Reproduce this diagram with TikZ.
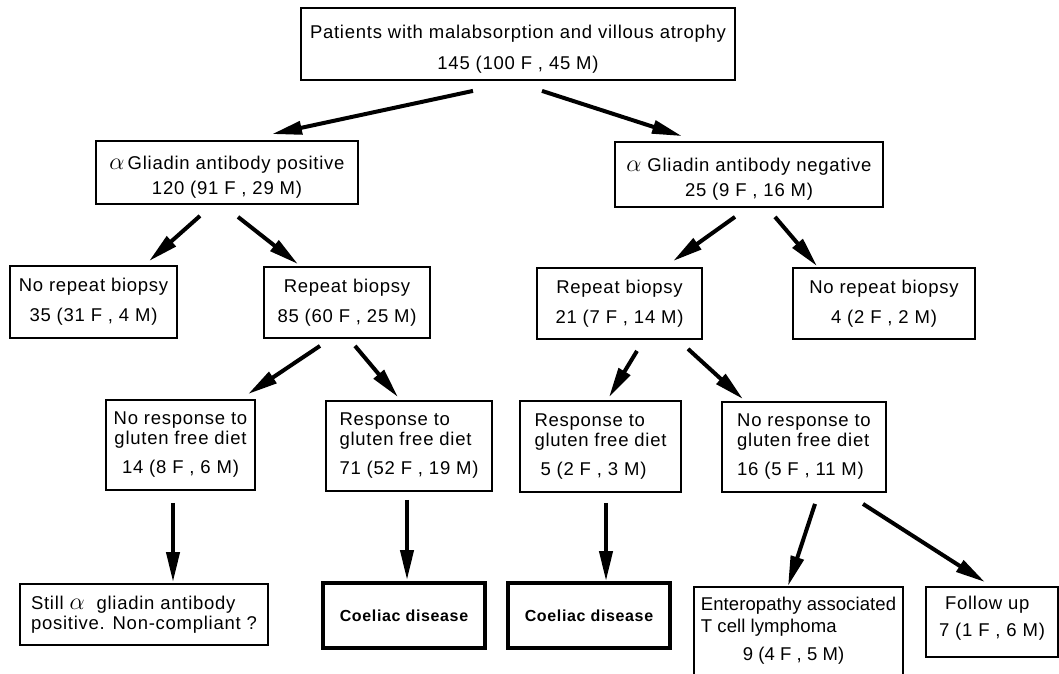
\RequirePackage{fix-cm}
\documentclass[tikz,border=0pt]{standalone}
\usepackage{fontspec}
\setmainfont[LetterSpace=4]{Liberation Sans}
\usetikzlibrary{arrows.meta}
\newcommand{\galpha}{\scalebox{1.3}{$\alpha$}}
\begin{document}
\begin{tikzpicture}[x=1pt,y=-1pt,
  box/.style={draw, line width=1.8pt, inner sep=0pt, font=\fontsize{18.5}{20}\selectfont, align=center},
  fin/.style={box, line width=3.8pt, font=\fontsize{16}{20}\selectfont\bfseries},
  arr/.style={line width=4pt, -{Triangle[length=30pt,width=13pt]}}]
\useasboundingbox (0,0) rectangle (1059,673);
\clip (0,0) rectangle (1059,673);

% level 1
\node[box, minimum width=434pt, minimum height=72pt] (top) at (518,44)
  {\rule{0pt}{24pt}Patients with malabsorption and villous atrophy\\[11pt]145 (100 F , 45 M)};
% level 2
\node[box, minimum width=262pt, minimum height=63pt] (pos) at (227,172.5)
  {\rule{0pt}{22pt}\galpha\,Gliadin antibody positive\\[5pt]120 (91 F , 29 M)};
\node[box, minimum width=268pt, minimum height=65pt] (neg) at (749,174.5)
  {\rule{0pt}{22pt}\galpha\ Gliadin antibody negative\\[5pt]25 (9 F , 16 M)};
% level 3
\node[box, minimum width=167pt, minimum height=72pt] (nrb1) at (93.5,302)
  {No repeat biopsy\\[10pt]35 (31 F , 4 M)};
\node[box, minimum width=166pt, minimum height=71pt] (rb1) at (347,302.5)
  {Repeat biopsy\\[10pt]85 (60 F , 25 M)};
\node[box, minimum width=165pt, minimum height=71pt] (rb2) at (619.5,303.5)
  {Repeat biopsy\\[10pt]21 (7 F , 14 M)};
\node[box, minimum width=182pt, minimum height=71pt] (nrb2) at (884,303.5)
  {No repeat biopsy\\[10pt]4 (2 F , 2 M)};
% level 4
\node[box, minimum width=149pt, minimum height=90pt] (nr14) at (180.5,445)
  {No response to\\gluten free diet\\[9pt]14 (8 F , 6 M)};
\node[box, align=left, minimum width=166pt, minimum height=90pt] (r71) at (409,446)
  {Response to\\gluten free diet\\[9pt]71 (52 F , 19 M)};
\node[box, align=left, minimum width=161pt, minimum height=91pt] (r5) at (600.5,446.5)
  {Response to\\gluten free diet\\[9pt]\hspace*{6pt}5 (2 F , 3 M)};
\node[box, align=left, minimum width=164pt, minimum height=90pt] (nr16) at (804,447)
  {No response to\\gluten free diet\\[9pt]16 (5 F , 11 M)};
% level 5
\node[box, align=left, minimum width=248pt, minimum height=61pt] (still) at (144,614.5)
  {Still \galpha\ \ gliadin antibody\\positive. Non-compliant ?};
\node[fin, minimum width=162pt, minimum height=65pt] (cd1) at (404,615.5) {Coeliac disease};
\node[fin, minimum width=162pt, minimum height=65pt] (cd2) at (589,615.5) {Coeliac disease};
\node[box, align=left, anchor=north, minimum width=209pt, inner ysep=10pt,
      font=\fontsize{18.5}{20}\selectfont\addfontfeatures{LetterSpace=0.5}] (ent) at (798.5,586)
  {Enteropathy associated\\[2pt]T cell lymphoma\\[8pt]\hspace*{42pt}9 (4 F , 5 M)\\[20pt]\strut};
\node[box, align=left, minimum width=132pt, minimum height=70pt] (fu) at (992,622)
  {\hspace*{6pt}Follow up\\[7pt]7 (1 F , 6 M)\rule[-12pt]{0pt}{0pt}};

% connectors
\draw[arr] ([shift={(-45,10)}]top.south) -- ([shift={(45,-6)}]pos.north);
\draw[arr] ([shift={(24,10)}]top.south) -- ([shift={(-67,-5)}]neg.north);
\draw[arr] ([shift={(-27,11)}]pos.south) -- ([shift={(55.5,-4)}]nrb1.north);
\draw[arr] ([shift={(11,12)}]pos.south) -- ([shift={(-49,-2)}]rb1.north);
\draw[arr] ([shift={(-14,9)}]neg.south) -- ([shift={(53.5,-6)}]rb2.north);
\draw[arr] ([shift={(26,9)}]neg.south) -- ([shift={(-67,-1)}]nrb2.north);
\draw[arr] ([shift={(-27,7)}]rb1.south) -- ([shift={(67.5,-5)}]nr14.north);
\draw[arr] ([shift={(8,7)}]rb1.south) -- ([shift={(-11,-3)}]r71.north);
\draw[arr] ([shift={(17.5,11)}]rb2.south) -- ([shift={(8.5,-3)}]r5.north);
\draw[arr] ([shift={(68.5,9)}]rb2.south) -- ([shift={(-61,-2)}]nr16.north);
\draw[arr] ([shift={(-7.5,12)}]nr14.south) -- ([shift={(-7.5,-1)}]nr14.south |- still.north);
\draw[arr] ([shift={(-2,8)}]r71.south) -- ([shift={(-2,-1)}]r71.south |- cd1.north);
\draw[arr] ([shift={(5.5,10)}]r5.south) -- ([shift={(5.5,0)}]r5.south |- cd2.north);
\draw[arr] ([shift={(11,11)}]nr16.south) -- ([shift={(-10.5,0)}]ent.north);
\draw[arr] ([shift={(59,11)}]nr16.south) -- ([shift={(-7,-4)}]fu.north);
\end{tikzpicture}
\end{document}
